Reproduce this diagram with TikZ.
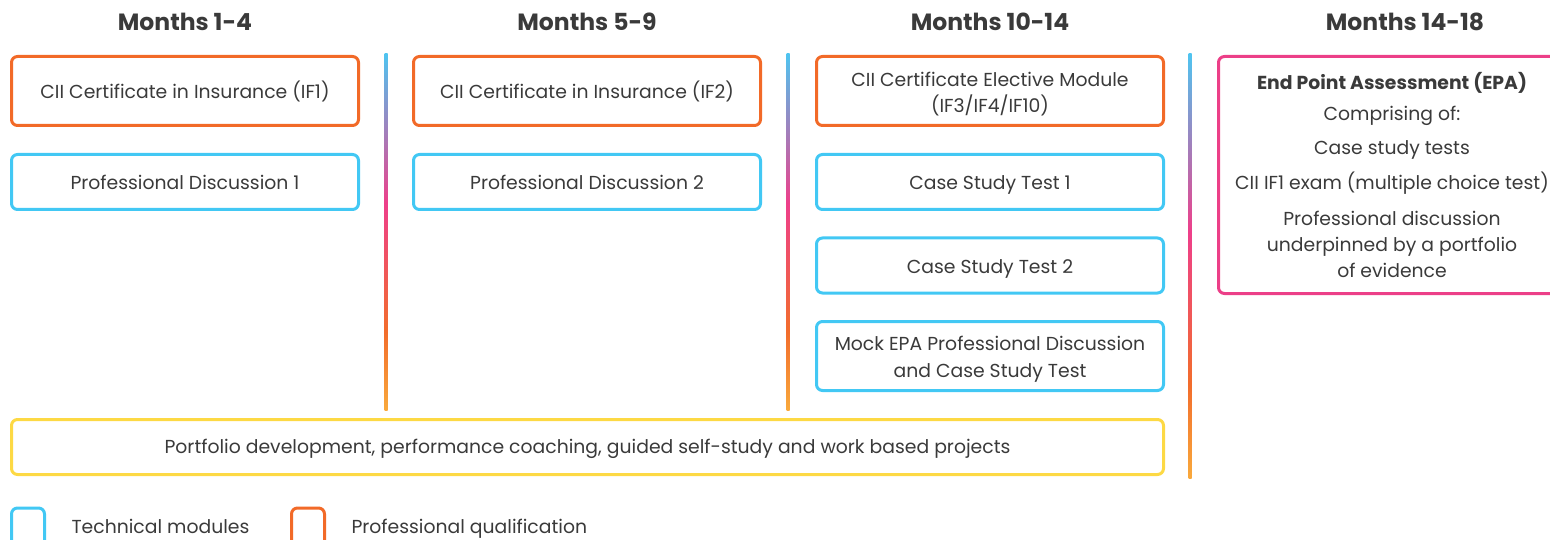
\documentclass[tikz,border=0pt]{standalone}
\usepackage{fontspec}
\setmainfont{Poppins}
\definecolor{txt}{HTML}{3A3A3A}
\definecolor{orng}{HTML}{F26A28}
\definecolor{blu}{HTML}{42C8F4}
\definecolor{yel}{HTML}{FDD944}
\definecolor{pnk}{HTML}{EC3F88}
\definecolor{gblue}{HTML}{4FC4F0}
\definecolor{gpink}{HTML}{EE3F8A}
\definecolor{gorng}{HTML}{F26D2C}
\definecolor{gyel}{HTML}{F9A93C}
% the path of a TikZ shading covers 25bp..75bp of the declared 100bp
\pgfdeclareverticalshading{divgrad}{100bp}{color(0bp)=(gyel); color(25bp)=(gyel); color(36bp)=(gorng); color(54bp)=(gpink); color(75bp)=(gblue); color(100bp)=(gblue)}
\newcommand{\bodyfont}{\fontsize{18.8}{26.5}\selectfont}
\tikzset{
  box/.style={draw, line width=3pt, rounded corners=6pt, minimum width=347pt, text=txt, font=\bodyfont, align=center, inner sep=0pt},
  qual/.style={box, draw=orng},
  tech/.style={box, draw=blu},
  hdr/.style={text=txt, font=\fontsize{23.5}{28}\selectfont\bfseries},
  epatxt/.style={text=txt, font=\bodyfont, align=center},
  legbox/.style={draw, line width=3pt, rounded corners=6pt, minimum width=33pt, minimum height=40pt},
  legtxt/.style={text=txt, font=\bodyfont, anchor=base west}
}
\begin{document}
\begin{tikzpicture}[x=1pt,y=-1pt]
\useasboundingbox (0,0) rectangle (1550,540);
\clip (0,0) rectangle (1550,540);
% headers
\node[hdr] (h1) at (185,22) {Months 1-4};
\node[hdr] (h2) at (587,22) {Months 5-9};
\node[hdr] (h3) at (990,22) {Months 10-14};
\node[hdr] (h4) at (1405,22) {Months 14-18};
% column 1
\node[qual, minimum height=69pt] (if1) at (185,91) {CII Certificate in Insurance (IF1)};
\node[tech, minimum height=55pt] (pd1) at (185,182) {Professional Discussion 1};
% column 2
\node[qual, minimum height=69pt] (if2) at (587,91) {CII Certificate in Insurance (IF2)};
\node[tech, minimum height=55pt] (pd2) at (587,182) {Professional Discussion 2};
% column 3
\node[qual, minimum height=69pt] (elec) at (990,91) {};
\node[text=txt, font=\bodyfont, align=center] (elect) at (990,94) {CII Certificate Elective Module\\(IF3/IF4/IF10)};
\node[tech, minimum height=55pt] (cs1) at (990,182) {};
\node[text=txt, font=\bodyfont] (cs1t) at (990,185) {Case Study Test 1};
\node[tech, minimum height=55pt] (cs2) at (990,265.5) {};
\node[text=txt, font=\bodyfont] (cs2t) at (990,268.5) {Case Study Test 2};
\node[tech, minimum height=69pt] (mock) at (990,356) {};
\node[text=txt, font=\bodyfont, align=center] (mockt) at (990,359) {Mock EPA Professional Discussion\\and Case Study Test};
% EPA
\node[box, draw=pnk, minimum height=237pt] (epa) at (1392,175) {};
\node[epatxt, font=\bodyfont\bfseries] (epa1) at (1392,82.5) {End Point Assessment (EPA)};
\node[epatxt] (epa2) at (1392,116) {Comprising of:};
\node[epatxt] (epa3) at (1392,149.5) {Case study tests};
\node[epatxt] (epa4) at (1392,183.5) {CII IF1 exam (multiple choice test)};
\node[epatxt, font=\fontsize{18.8}{26}\selectfont] (epa5) at (1392,244.5) {Professional discussion\\underpinned by a portfolio\\of evidence};
% portfolio
\node[box, draw=yel, minimum width=1152pt, minimum height=55pt] (port) at (587.5,447) {};
\node[text=txt, font=\bodyfont] (portt) at (587.5,449) {Portfolio development, performance coaching, guided self-study and work based projects};
% dividers
\shade[shading=divgrad] (384.5,54) rectangle (387.5,410);
\shade[shading=divgrad] (786.5,54) rectangle (789.5,410);
\shade[shading=divgrad] (1188.5,54) rectangle (1191.5,478);
% legend
\node[legbox, draw=blu] (lg1) at (28,528) {};
\node[legtxt] (lt1) at (68,533) {Technical modules};
\node[legbox, draw=orng] (lg2) at (308,528) {};
\node[legtxt] (lt2) at (348,533) {Professional qualification};
\end{tikzpicture}
\end{document}
